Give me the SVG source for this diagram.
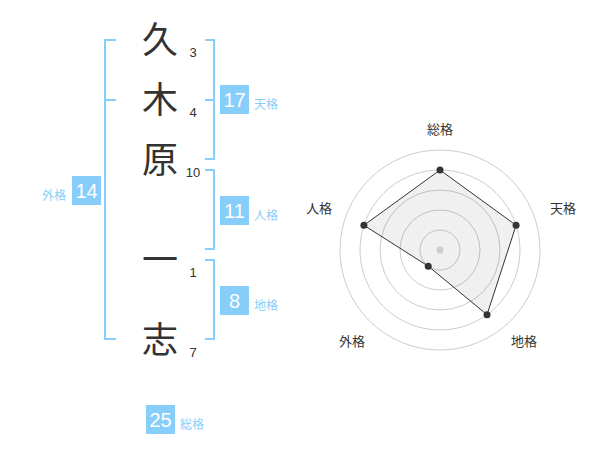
<svg xmlns="http://www.w3.org/2000/svg" width="600" height="470" viewBox="0 0 600 470">
<style>
.kanji{font-family:"Noto Sans CJK JP","Noto Sans CJK SC",sans-serif;font-size:36px;fill:#333;text-anchor:middle}
.num{font-family:"Liberation Sans",Arial,sans-serif;font-size:13px;fill:#333;text-anchor:middle}
.br{fill:none;stroke:#87CEFA;stroke-width:2}
.box{fill:#87CEFA}
.bn{font-family:"Liberation Sans",Arial,sans-serif;font-size:20px;fill:#fff;text-anchor:middle}
.lbl{font-family:"Noto Sans CJK JP","Noto Sans CJK SC",sans-serif;font-size:12px;fill:#87CEFA}
.rl{font-family:"Noto Sans CJK JP","Noto Sans CJK SC",sans-serif;font-size:13px;fill:#333;text-anchor:middle}
.ring{fill:none;stroke:#ccc;stroke-width:1}
.pt{fill:#333}
</style>
<rect width="600" height="470" fill="#fff"/>
<g id="name">
<text class="kanji" x="160" y="53">久</text>
<text class="num" x="193" y="57">3</text>
<text class="kanji" x="160" y="113">木</text>
<text class="num" x="193" y="117">4</text>
<text class="kanji" x="160" y="173">原</text>
<text class="num" x="193" y="177">10</text>
<text class="kanji" x="160" y="273">一</text>
<text class="num" x="193" y="277">1</text>
<text class="kanji" x="160" y="353">志</text>
<text class="num" x="193" y="357">7</text>
</g>
<g id="connectors">
<path class="br" d="M116,40 H105 V339 H116 M105,100 H116"/>
<path class="br" d="M205,40 H214 V159 H205 M205,100 H214"/>
<path class="br" d="M205,170 H214 V249 H205"/>
<path class="br" d="M205,260 H214 V339 H205"/>
</g>
<g id="tenkaku">
<rect class="box" x="220" y="85" width="29" height="29"/>
<text class="bn" x="234.5" y="107">17</text>
<text class="lbl" x="254" y="109">天格</text>
</g>
<g id="jinkaku">
<rect class="box" x="220" y="196" width="29" height="29"/>
<text class="bn" x="234.5" y="218">11</text>
<text class="lbl" x="254" y="220">人格</text>
</g>
<g id="chikaku">
<rect class="box" x="220" y="286" width="29" height="29"/>
<text class="bn" x="234.5" y="308">8</text>
<text class="lbl" x="254" y="310">地格</text>
</g>
<g id="gaikaku">
<rect class="box" x="72" y="176" width="29" height="29"/>
<text class="bn" x="86.5" y="198">14</text>
<text class="lbl" x="42" y="200">外格</text>
</g>
<g id="soukaku">
<rect class="box" x="146" y="405" width="29" height="29"/>
<text class="bn" x="160.5" y="427">25</text>
<text class="lbl" x="180" y="429">総格</text>
</g>
<g id="radar">
<circle class="ring" cx="440" cy="250" r="20"/>
<circle class="ring" cx="440" cy="250" r="40"/>
<circle class="ring" cx="440" cy="250" r="60"/>
<circle class="ring" cx="440" cy="250" r="80"/>
<circle class="ring" cx="440" cy="250" r="100"/>
<polygon points="440,170 516.08,225.28 487.02,314.72 428.24,266.18 363.92,225.28" fill="#000" fill-opacity="0.06" stroke="#333" stroke-width="1"/>
<circle cx="440" cy="250" r="3.5" fill="#ccc"/>
<circle class="pt" cx="440" cy="170" r="3.5"/>
<circle class="pt" cx="516.08" cy="225.28" r="3.5"/>
<circle class="pt" cx="487.02" cy="314.72" r="3.5"/>
<circle class="pt" cx="428.24" cy="266.18" r="3.5"/>
<circle class="pt" cx="363.92" cy="225.28" r="3.5"/>
<text class="rl" x="440" y="134">総格</text>
<text class="rl" x="563" y="213">天格</text>
<text class="rl" x="524" y="346">地格</text>
<text class="rl" x="352" y="346">外格</text>
<text class="rl" x="319" y="213">人格</text>
</g>
</svg>
